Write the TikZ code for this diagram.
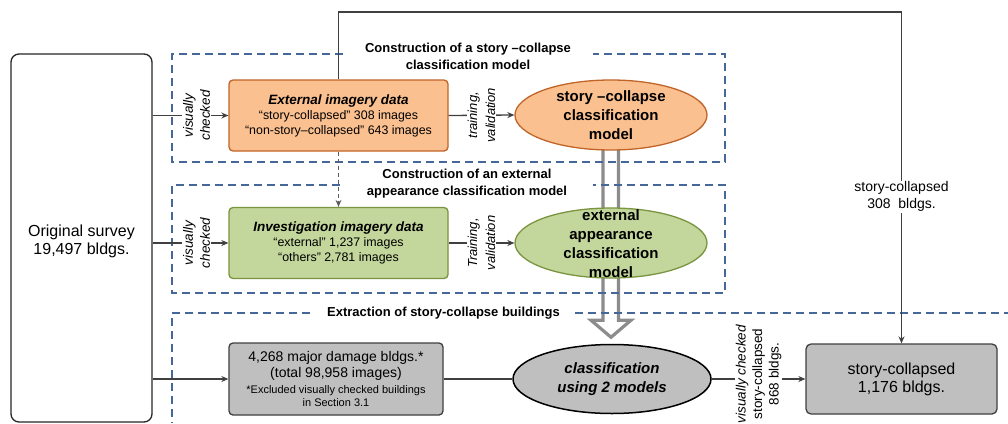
\documentclass[tikz,border=0pt]{standalone}
\usepackage{fontspec}
\setmainfont{Liberation Sans}
\usetikzlibrary{shapes.geometric,arrows.meta,backgrounds,calc}
\definecolor{ofill}{HTML}{FAC090}
\definecolor{oline}{HTML}{C06428}
\definecolor{gfill}{HTML}{C3D69B}
\definecolor{gline}{HTML}{7A9440}
\definecolor{kfill}{HTML}{BFBFBF}
\definecolor{cline}{HTML}{404040}
\definecolor{dblue}{HTML}{45679A}
\definecolor{hgray}{HTML}{8C8C8C}
\begin{document}
\begin{tikzpicture}[x=1pt,y=-1pt,
  conn/.style={draw=cline,line width=1.3pt},
  arr/.style={-{Stealth[length=7pt,width=6pt]}},
  dbox/.style={draw=dblue,line width=1.4pt,dash pattern=on 8pt off 5pt},
  ttl/.style={align=center,font=\fontsize{13}{17}\selectfont\bfseries},
  rlab/.style={rotate=90,fill=white,inner sep=1pt,align=center,font=\fontsize{13.5}{17}\selectfont\itshape},
  databox/.style={rectangle,rounded corners=4pt,line width=1.3pt,align=center,minimum width=219pt,minimum height=71pt,inner sep=0pt,font=\fontsize{12.4}{15}\selectfont},
  ell/.style={ellipse,line width=1.3pt,minimum width=192pt,minimum height=70pt,inner sep=0pt},
  elltxt/.style={align=center,font=\fontsize{15}{19}\selectfont\bfseries},
  bigtxt/.style={align=center,font=\fontsize{16}{18}\selectfont}
]
\useasboundingbox (0,0) rectangle (1008,423);

% dashed group frames
\draw[dbox] (343,54) -- (172,54) -- (172,162) -- (725,162) -- (725,54) -- (593,54);
\draw[dbox] (340,185) -- (172,185) -- (172,293) -- (725,293) -- (725,185) -- (593,185);
\draw[dbox] (310,313) -- (172,313) -- (172,423);
\draw[dbox] (575,313) -- (1008,313);

\node[ttl] (t1) at (468,56.5) {Construction of a story –collapse\\classification model};
\node[ttl] (t2) at (467,183.5) {Construction of an external\\appearance classification model};
\node[ttl] (t3) at (443.5,313) {Extraction of story-collapse buildings};

% original survey
\node[draw=black!85,rounded corners=8pt,line width=1.3pt,minimum width=141pt,minimum height=368pt] (orig) at (81.5,238) {};
\node[bigtxt] (origt) at (81.5,241) {Original survey\\19,497 bldgs.};

% data boxes
\node[databox,draw=oline,fill=ofill] (ext) at (338.5,115.5)
  {{\fontsize{13.5}{15}\selectfont\bfseries\itshape External imagery data}\\“story-collapsed” 308 images\\“non-story–collapsed” 643 images};
\node[databox,draw=gline,fill=gfill] (inv) at (338.5,243)
  {{\fontsize{13.5}{15}\selectfont\bfseries\itshape Investigation imagery data}\\“external” 1,237 images\\“others” 2,781 images};
\node[databox,draw=cline,fill=kfill,minimum width=214pt,minimum height=72pt,font=\fontsize{14}{16}\selectfont] (maj) at (336,379)
  {4,268 major damage bldgs.*\\(total 98,958 images)\\{\fontsize{11}{12.5}\selectfont *Excluded visually checked buildings}\\[-3.5pt]{\fontsize{11}{12.5}\selectfont in Section 3.1}};

% ellipses
\node[ell,draw=oline,fill=ofill] (ell1) at (611,115) {};
\node[elltxt] (ell1t) at (ell1) {story –collapse\\classification\\model};
\node[ell,draw=gline,fill=gfill] (ell2) at (611,243) {};
\node[elltxt] (ell2t) at (611,243.5) {external\\appearance\\classification\\model};
\node[ell,draw=black,fill=kfill,minimum width=198pt,minimum height=69pt,line width=1.5pt] (ell3) at (612,379) {};
\node[elltxt,font=\fontsize{15}{19}\selectfont\bfseries\itshape] (ell3t) at (ell3) {classification\\using 2 models};

% final box
\node[draw=cline,fill=kfill,rounded corners=5pt,line width=1.3pt,minimum width=191pt,minimum height=70pt,bigtxt] (fin) at (901.5,379) {story-collapsed\\1,176 bldgs.};

% connectors
\draw[conn,arr] (orig.east |- ext.west) -- node[rlab,pos=0.58]{visually\\checked} (ext.west);
\draw[conn,arr] (orig.east |- inv.west) -- node[rlab,pos=0.58]{visually\\checked} (inv.west);
\draw[conn,arr] (orig.east |- maj.west) -- (maj.west);
\draw[conn,arr] (ext.east) -- node[rlab,font=\fontsize{13}{18}\selectfont\itshape]{training,\\validation} (ell1.west);
\draw[conn,arr] (inv.east) -- node[rlab,font=\fontsize{13}{18}\selectfont\itshape]{Training,\\validation} (ell2.west);
\draw[conn] (maj.east) -- (ell3.west);
\draw[conn,arr] (ell3.east) -- node[yshift=5pt,rlab,font=\fontsize{13.5}{16.5}\selectfont]{\textit{visually checked}\\story-collapsed\\868 bldgs.} (fin.west);
\draw[conn,draw=cline!85,line width=1.1pt,dash pattern=on 4pt off 3pt,arr] (ext.south) -- (inv.north);

\coordinate (topc) at (620,12);
\draw[conn,arr] (ext.north) -- (ext.north |- topc) -- (fin.north |- topc)
  -- node[pos=0.557,fill=white,inner sep=1pt,align=center,font=\fontsize{14}{17}\selectfont]{story-collapsed\\308\ \ bldgs.} (fin.north);

% hollow block arrow behind the ellipses
\coordinate (hb) at (ell1.south |- ell3.north);
\begin{pgfonlayer}{background}
\fill[white] (0,0) rectangle (1008,423);
\draw[line width=3.2pt,draw=hgray,line join=miter]
  ($(ell1.south)+(-8,-3)$) -- ($(hb)+(-8,-23.5)$) -- ($(hb)+(-20,-23.5)$)
  -- ($(hb)+(0,-6.5)$) -- ($(hb)+(20,-23.5)$) -- ($(hb)+(7.5,-23.5)$)
  -- ($(ell1.south)+(7.5,-3)$);
\end{pgfonlayer}
\end{tikzpicture}
\end{document}
